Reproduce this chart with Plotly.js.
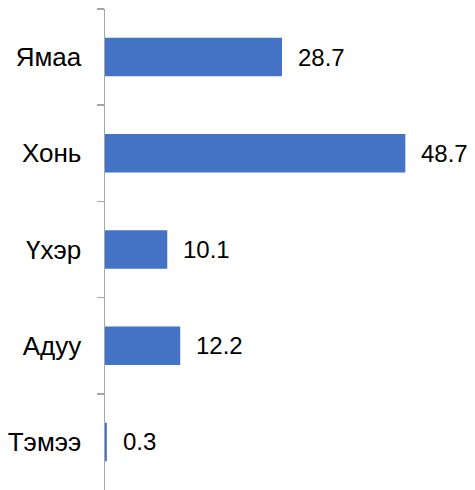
<!DOCTYPE html>
<html><head><meta charset="utf-8">
<script src="https://cdn.plot.ly/plotly-3.0.1.min.js"></script>
<style>html,body{margin:0;padding:0;background:#fff}</style>
</head><body>
<div id="chart" style="width:475px;height:490px"></div>
<script>
const categories = ["Ямаа", "Хонь", "Үхэр", "Адуу", "Тэмээ"];
const values = [28.7, 48.7, 10.1, 12.2, 0.3];
const valueLabels = ["28.7", "48.7", "10.1", "12.2", "0.3"];

const trace = {
  type: 'bar', orientation: 'h',
  y: categories, x: values,
  marker: {color: '#4472C4'},
  hoverinfo: 'none'
};
const annotations = categories.map((c, i) => ({
  x: values[i], y: c, xref: 'x', yref: 'y',
  text: valueLabels[i], showarrow: false,
  xanchor: 'left', xshift: 14,
  font: {family: 'Liberation Sans, Arial, sans-serif', size: 24, color: '#000'}
}));
const layout = {
  width: 475, height: 490,
  margin: {l: 105, r: 0, t: 9, b: 0},
  paper_bgcolor: '#fff', plot_bgcolor: '#fff',
  bargap: 0.6,
  showlegend: false,
  font: {family: 'Liberation Sans, Arial, sans-serif', size: 24, color: '#000'},
  xaxis: {range: [0, 60], visible: false, fixedrange: true},
  yaxis: {
    type: 'category', autorange: 'reversed',
    showline: true, linecolor: '#A6A6A6', linewidth: 1.5,
    ticks: 'outside', tickson: 'boundaries', ticklen: 7, tickcolor: '#A6A6A6', tickwidth: 1.5,
    showgrid: false, zeroline: false,
    ticklabelstandoff: 17,
    tickfont: {family: 'Liberation Sans, Arial, sans-serif', size: 26, color: '#000'}
  },
  annotations: annotations
};
Plotly.newPlot('chart', [trace], layout, {displayModeBar: false, staticPlot: true});
</script>
</body></html>
